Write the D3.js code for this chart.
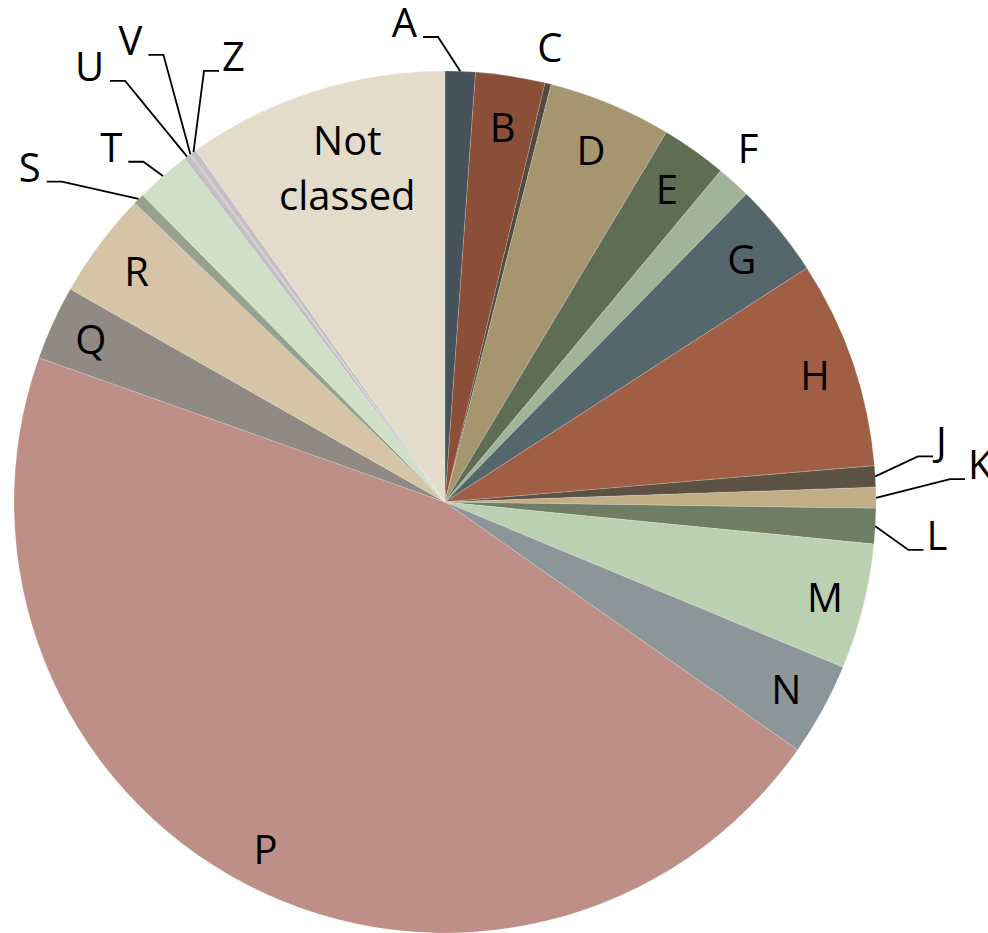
<!DOCTYPE html>
<html>
<head>
<meta charset="utf-8">
<script src="https://cdn.jsdelivr.net/npm/d3@7"></script>
<style>
  html, body { margin: 0; padding: 0; background: #ffffff; }
  svg { display: block; }
  text { font-family: "Open Sans", "Noto Sans", sans-serif; fill: #000; }
</style>
</head>
<body>
<svg id="chart" width="988" height="933"></svg>
<script>
// ---------- data ----------
const categories = ["A","B","C","D","E","F","G","H","J","K","L","M","N","P","Q","R","S","T","U","V","Z","Not classed"];
const values     = [1.13, 2.60, 0.23, 4.63, 2.46, 1.28, 3.54, 7.79, 0.80, 0.78, 1.32, 4.71, 3.49, 45.69, 2.79, 3.98, 0.42, 2.05, 0.24, 0.06, 0.22, 9.81];
const colors     = ["#46535a","#8b4f38","#534a40","#a69670","#5f6d55","#a1b49a","#55676b","#a05f45","#5c5244","#c1ae86","#6f7d64","#bbd0b1","#8c9597","#be8f87","#8f8a83","#d5c5a6","#98a08f","#d0e0c6","#c0c0c5","#d9b9b9","#c0c0c5","#e3dccb"];

// ---------- label layout (polar: angle in degrees clockwise from top, radius as fraction of pie radius) ----------
// inside labels: radius factor at the slice mid-angle
const insideLabels = { B: 0.88, D: 0.882, E: 0.89, G: 0.889, H: 0.907, M: 0.909, N: 0.904, P: 0.907, Q: 0.904, R: 0.893 };
// outside labels without leader: text centre
const freeLabels = { C: { a: 13.0, r: 1.082 }, F: { a: 40.6, r: 1.081 } };
// outside labels with leader line: elbow point and side of the text
const leaderLabels = {
  A: { a: -0.86, r: 1.079, side: -1 },
  J: { a: 84.5,  r: 1.1025, side: 1 },
  K: { a: 87.4,  r: 1.173, side: 1 },
  L: { a: 95.9,  r: 1.081, side: 1 },
  S: { a: 309.9, r: 1.159, side: -1 },
  T: { a: 318.44, r: 1.055, side: -1 },
  U: { a: 322.78, r: 1.227, side: -1 },
  V: { a: 327.8, r: 1.226, side: -1 },
  Z: { a: 330.8, r: 1.146, side: 1 }
};
const notClassedLabel = { a: 343.6, r: 0.803, lines: ["Not", "classed"] };

// ---------- drawing ----------
const width = 988, height = 933;
const cx = 445, cy = 502, R = 431;
const fontSize = 40;
const svg = d3.select("#chart");
const g = svg.append("g").attr("transform", `translate(${cx},${cy})`);

const data = categories.map((c, i) => ({ name: c, value: values[i], color: colors[i] }));
const pie = d3.pie().sort(null).value(d => d.value).startAngle(0).endAngle(2 * Math.PI);
const arcs = pie(data);
const arc = d3.arc().innerRadius(0).outerRadius(R);

g.selectAll("path.slice")
  .data(arcs)
  .enter().append("path")
  .attr("class", "slice")
  .attr("d", arc)
  .attr("fill", d => d.data.color)
  .attr("stroke", "rgba(255,255,255,0.35)")
  .attr("stroke-width", 0.5);

const rad = deg => deg * Math.PI / 180;
const polar = (angleRad, r) => [r * Math.sin(angleRad), -r * Math.cos(angleRad)];
const mid = d => (d.startAngle + d.endAngle) / 2;
const byName = {};
arcs.forEach(d => byName[d.data.name] = d);

const labels = g.append("g").style("font-size", fontSize + "px");

// inside labels
Object.entries(insideLabels).forEach(([name, rf]) => {
  const d = byName[name];
  const [x, y] = polar(mid(d), R * rf);
  labels.append("text")
    .attr("x", x).attr("y", y)
    .attr("dy", "0.36em")
    .attr("text-anchor", "middle")
    .text(name);
});

// free outside labels
Object.entries(freeLabels).forEach(([name, p]) => {
  const [x, y] = polar(rad(p.a), R * p.r);
  labels.append("text")
    .attr("x", x).attr("y", y)
    .attr("dy", "0.36em")
    .attr("text-anchor", "middle")
    .text(name);
});

// leader labels
const seg = 15;
Object.entries(leaderLabels).forEach(([name, p]) => {
  const d = byName[name];
  const start = polar(mid(d), R);
  const elbow = polar(rad(p.a), R * p.r);
  const end = [elbow[0] + p.side * seg, elbow[1]];
  g.append("path")
    .attr("d", d3.line()([start, elbow, end]))
    .attr("fill", "none")
    .attr("stroke", "#000")
    .attr("stroke-width", 1.8);
  labels.append("text")
    .attr("x", end[0] + p.side * (p.side > 0 ? 3 : 6))
    .attr("y", end[1])
    .attr("text-anchor", p.side > 0 ? "start" : "end")
    .text(name);
});

// Not classed label
{
  const [x, y] = polar(rad(notClassedLabel.a), R * notClassedLabel.r);
  const t = labels.append("text").attr("text-anchor", "middle");
  t.append("tspan").attr("x", x).attr("y", y - 15).text(notClassedLabel.lines[0]);
  t.append("tspan").attr("x", x).attr("y", y + 40).text(notClassedLabel.lines[1]);
}
</script>
</body>
</html>
